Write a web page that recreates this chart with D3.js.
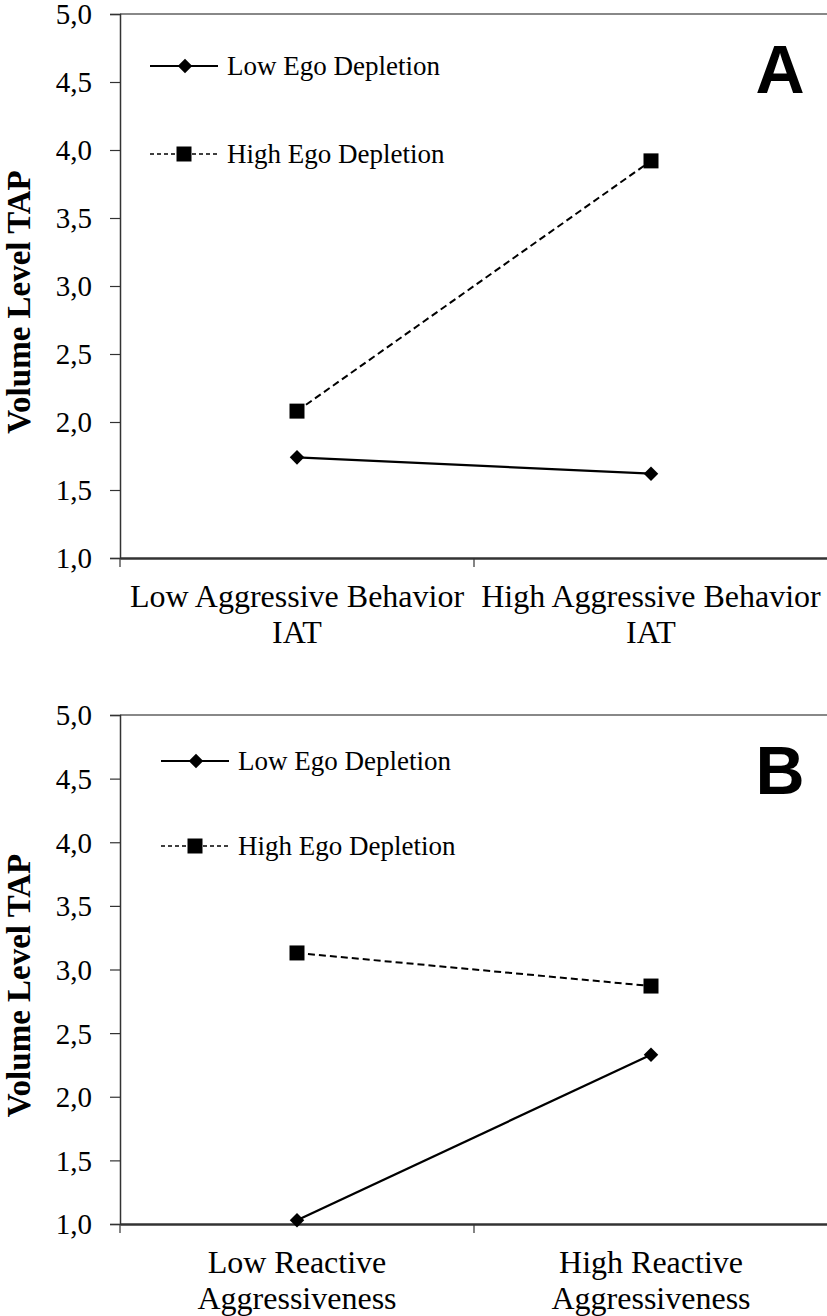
<!DOCTYPE html>
<html>
<head>
<meta charset="utf-8">
<script src="https://cdn.jsdelivr.net/npm/d3@7"></script>
<style>
  body { margin: 0; background: #fff; }
  svg text { font-family: "Liberation Serif", "Times New Roman", serif; fill: #000; }
</style>
</head>
<body>
<div id="chart"></div>
<script>
const width = 827, height = 1316;

// data
const yTicks = [1, 1.5, 2, 2.5, 3, 3.5, 4, 4.5, 5];
const seriesNames = ["Low Ego Depletion", "High Ego Depletion"];
const catsA = [["Low Aggressive Behavior", "IAT"], ["High Aggressive Behavior", "IAT"]];
const lowA = [1.74, 1.62];
const highA = [2.08, 3.92];
const catsB = [["Low Reactive", "Aggressiveness"], ["High Reactive", "Aggressiveness"]];
const lowB = [1.03, 2.33];
const highB = [3.13, 2.87];

const svg = d3.select("#chart").append("svg")
  .attr("width", width)
  .attr("height", height);

const fmt = d => d3.format(".1f")(d).replace(".", ",");
const serif = "'Liberation Serif', 'Times New Roman', serif";

function panel(opts) {
  const { top, bottom, cats, low, high, letter, legendX, legendY1, legendY2 } = opts;
  const g = svg.append("g");

  const x = d3.scaleBand().domain([0, 1]).range([120, 828]);
  const y = d3.scaleLinear().domain([1, 5]).range([bottom, top]);

  // top border
  g.append("line")
    .attr("x1", 120).attr("x2", width)
    .attr("y1", top).attr("y2", top)
    .attr("stroke", "#888").attr("stroke-width", 2);

  // y axis
  const yAxis = g.append("g")
    .attr("transform", "translate(120,0)")
    .call(d3.axisLeft(y).tickValues(yTicks).tickFormat(fmt).tickSize(10).tickPadding(18))
    .attr("font-family", serif)
    .attr("font-size", 29);
  yAxis.select(".domain").attr("stroke", "#333").attr("stroke-width", 1.5);
  yAxis.selectAll(".tick line").attr("stroke", "#333").attr("stroke-width", 1.2);
  yAxis.selectAll(".tick text")
    .attr("fill", "#000")
    .attr("dy", "0.34em")
    .style("font-family", serif)
    .style("font-size", "29px");

  // x axis
  const xAxis = g.append("g")
    .attr("transform", `translate(0,${bottom})`)
    .call(d3.axisBottom(x).tickFormat("").tickSize(0));
  xAxis.select(".domain").attr("stroke", "#333").attr("stroke-width", 2.5);
  // boundary ticks
  [x(0), x(1)].forEach(px => {
    g.append("line").attr("x1", px).attr("x2", px)
      .attr("y1", bottom).attr("y2", bottom + 9)
      .attr("stroke", "#333").attr("stroke-width", 1.2);
  });

  // x labels
  cats.forEach((c, i) => {
    const t = g.append("text")
      .attr("x", x(i) + x.bandwidth() / 2)
      .attr("y", bottom + 49)
      .attr("text-anchor", "middle")
      .style("font-size", "32px");
    c.forEach((line, j) => {
      t.append("tspan")
        .attr("x", x(i) + x.bandwidth() / 2)
        .attr("dy", j === 0 ? 0 : 36)
        .text(line);
    });
  });

  // y title
  g.append("text")
    .attr("transform", `translate(30,${(top + bottom) / 2 + 16}) rotate(-90)`)
    .attr("text-anchor", "middle")
    .style("font-size", "33px")
    .style("font-weight", "bold")
    .text("Volume Level TAP");

  // letter
  g.append("text")
    .attr("x", 780).attr("y", top + 79)
    .attr("text-anchor", "middle")
    .style("font-family", "'Liberation Sans', Arial, sans-serif")
    .style("font-size", "68px")
    .style("font-weight", "bold")
    .text(letter);

  const cx = i => x(i) + x.bandwidth() / 2;
  const line = d3.line().x((d, i) => cx(i)).y(d => y(d));

  g.append("path").datum(high)
    .attr("d", line).attr("fill", "none")
    .attr("stroke", "#000").attr("stroke-width", 2)
    .attr("stroke-dasharray", "7,4");
  g.append("path").datum(low)
    .attr("d", line).attr("fill", "none")
    .attr("stroke", "#000").attr("stroke-width", 2.3);

  const diamond = d3.symbol().type(d3.symbolDiamond2).size(135);
  const square = d3.symbol().type(d3.symbolSquare).size(225);

  g.selectAll(".lowpt").data(low).join("path")
    .attr("transform", (d, i) => `translate(${cx(i)},${y(d)})`)
    .attr("d", diamond).attr("fill", "#000");
  g.selectAll(".highpt").data(high).join("path")
    .attr("transform", (d, i) => `translate(${cx(i)},${y(d)})`)
    .attr("d", square).attr("fill", "#000");

  // legend
  const lg = g.append("g");
  lg.append("line")
    .attr("x1", legendX).attr("x2", legendX + 68)
    .attr("y1", legendY1).attr("y2", legendY1)
    .attr("stroke", "#000").attr("stroke-width", 2);
  lg.append("path")
    .attr("transform", `translate(${legendX + 35},${legendY1})`)
    .attr("d", diamond).attr("fill", "#000");
  lg.append("text")
    .attr("x", legendX + 77).attr("y", legendY1 + 9)
    .style("font-size", "27px")
    .text(seriesNames[0]);

  lg.append("line")
    .attr("x1", legendX).attr("x2", legendX + 68)
    .attr("y1", legendY2).attr("y2", legendY2)
    .attr("stroke", "#000").attr("stroke-width", 1.6)
    .attr("stroke-dasharray", "4,3");
  lg.append("path")
    .attr("transform", `translate(${legendX + 34},${legendY2})`)
    .attr("d", square).attr("fill", "#000");
  lg.append("text")
    .attr("x", legendX + 77).attr("y", legendY2 + 9)
    .style("font-size", "27px")
    .text(seriesNames[1]);
}

panel({ top: 14, bottom: 558, cats: catsA, low: lowA, high: highA, letter: "A",
  legendX: 150, legendY1: 66, legendY2: 154 });
panel({ top: 715, bottom: 1224, cats: catsB, low: lowB, high: highB, letter: "B",
  legendX: 161, legendY1: 761, legendY2: 846 });
</script>
</body>
</html>
